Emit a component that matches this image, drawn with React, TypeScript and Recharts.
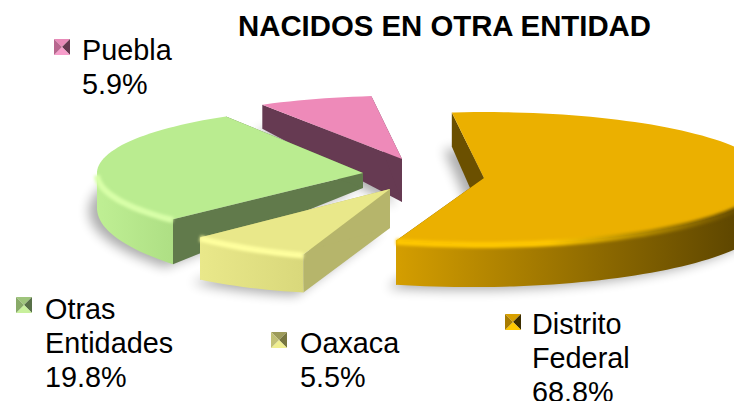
import { Pie, PieChart } from "recharts";

const WIDTH = 734;
const HEIGHT = 401;

const labels = ["Puebla", "Otras Entidades", "Oaxaca", "Distrito Federal"];
const values = [5.9, 19.8, 5.5, 68.8];
const legendLines = [["Puebla"], ["Otras", "Entidades"], ["Oaxaca"], ["Distrito", "Federal"]];

const data = labels.map((name, i) => ({ name, value: values[i] }));

// the slide's 3D view stretches some slices, so true angles get remapped
const TRUE_KNOTS = [96.5, 117.74, 189.02, 208.82, 456.5];
const VIEW_KNOTS = [96.5, 121, 224.4, 251, 456.5];

const warp = (a: number) => {
  for (let i = 0; i < TRUE_KNOTS.length - 1; i++) {
    if (a <= TRUE_KNOTS[i + 1] + 0.001) {
      const u = (a - TRUE_KNOTS[i]) / (TRUE_KNOTS[i + 1] - TRUE_KNOTS[i]);
      return VIEW_KNOTS[i] + u * (VIEW_KNOTS[i + 1] - VIEW_KNOTS[i]);
    }
  }
  return a;
};

const TILT = 0.248;

interface SliceLook {
  dx: number;
  dy: number;
  rScale: number;
  ryScale: number;
  nudge: number;
  depth: [number, number, number]; // apex, first rim corner, last rim corner
  top: string;
  side: string;
  rim: [string, string];
  lip: [string, string];
}

const LOOK: Record<string, SliceLook> = {
  Puebla: {
    dx: 2, dy: -11, rScale: 1.02, ryScale: 0.96, nudge: 0, depth: [43, 24, 24],
    top: "#ee8ab9", side: "#663a52", rim: ["#ee8ab9", "#ee8ab9"], lip: ["#ee8ab9", "#ee8ab9"],
  },
  "Otras Entidades": {
    dx: -37, dy: 3, rScale: 1, ryScale: 1, nudge: 0, depth: [15, 22, 45],
    top: "#baec90", side: "#617a4b", rim: ["#bfef94", "#aedf84"], lip: ["#d8ffa8", "#d8ffa8"],
  },
  Oaxaca: {
    dx: -10, dy: 19, rScale: 1, ryScale: 1.05, nudge: 0, depth: [39, 42, 38],
    top: "#e9e88a", side: "#b6b56b", rim: ["#e9e88a", "#d9d87b"], lip: ["#ffff9e", "#ffff9e"],
  },
  "Distrito Federal": {
    dx: 84, dy: 8, rScale: 1.07, ryScale: 1, nudge: 1, depth: [42, 44, 34],
    top: "#ebb000", side: "#6b5000", rim: ["#d49e00", "#5f4700"], lip: ["#ffc800", "#6b5000"],
  },
};

const sliceGeometry = (props: any) => {
  const look = LOOK[props.name ?? props.payload?.name];
  const ax = props.cx + look.dx;
  const ay = props.cy + look.dy;
  const rx = props.outerRadius * look.rScale;
  const ry = props.outerRadius * TILT * look.ryScale;
  const from = warp(props.startAngle) + look.nudge;
  const to = warp(props.endAngle);
  const at = (deg: number) => ({
    x: ax + rx * Math.cos((deg * Math.PI) / 180),
    y: ay - ry * Math.sin((deg * Math.PI) / 180),
  });
  const rimDepth = (deg: number) =>
    look.depth[1] + ((deg - from) / (to - from)) * (look.depth[2] - look.depth[1]);
  const arc: { x: number; y: number; deg: number }[] = [];
  for (let d = from; d < to; d += 2) arc.push({ ...at(d), deg: d });
  arc.push({ ...at(to), deg: to });
  return { look, ax, ay, at, arc, rimDepth, from, to };
};

const toPath = (pts: { x: number; y: number }[], close = true) =>
  pts.map((p, i) => `${i ? "L" : "M"}${p.x.toFixed(1)} ${p.y.toFixed(1)}`).join(" ") + (close ? " Z" : "");

function ShadowShape(props: any) {
  const { ax, ay, arc, look, rimDepth } = sliceGeometry(props);
  const pts = [{ x: ax - 8, y: ay + look.depth[0] + 3 }, ...arc.map((p) => ({ x: p.x - 8, y: p.y + rimDepth(p.deg) + 3 }))];
  return (
    <g>
      <defs>
        <filter id={`soft-${props.index}`} x="-20%" y="-20%" width="140%" height="140%">
          <feGaussianBlur stdDeviation="6" />
        </filter>
      </defs>
      <path d={toPath(pts)} fill="#000" opacity={0.32} filter={`url(#soft-${props.index})`} />
    </g>
  );
}

function SliceShape(props: any) {
  const { look, ax, ay, arc, rimDepth } = sliceGeometry(props);
  const first = arc[0];
  const last = arc[arc.length - 1];
  const wallA = [
    { x: ax, y: ay },
    first,
    { x: first.x, y: first.y + look.depth[1] },
    { x: ax, y: ay + look.depth[0] },
  ];
  const wallB = [
    { x: ax, y: ay },
    last,
    { x: last.x, y: last.y + look.depth[2] },
    { x: ax, y: ay + look.depth[0] },
  ];
  const front = arc.filter((p) => Math.sin((p.deg * Math.PI) / 180) <= 0);
  const hasFront = front.length > 1;
  const xs = front.map((p) => p.x);
  const minX = hasFront ? Math.min(...xs) : 0;
  const maxX = hasFront ? Math.min(Math.max(...xs), WIDTH) : 1;
  const wall = hasFront
    ? [...front, ...[...front].reverse().map((p) => ({ x: p.x, y: p.y + rimDepth(p.deg) }))]
    : [];
  const id = `s${props.index}`;
  return (
    <g>
      <defs>
        <linearGradient id={`${id}-rim`} gradientUnits="userSpaceOnUse" x1={minX} x2={maxX} y1={0} y2={0}>
          <stop offset="0" stopColor={look.rim[0]} />
          <stop offset="1" stopColor={look.rim[1]} />
        </linearGradient>
        <linearGradient id={`${id}-lip`} gradientUnits="userSpaceOnUse" x1={minX} x2={maxX} y1={0} y2={0}>
          <stop offset="0" stopColor={look.lip[0]} />
          <stop offset="0.45" stopColor={look.lip[0]} />
          <stop offset="1" stopColor={look.lip[1]} />
        </linearGradient>
        <filter id={`${id}-blur`} x="-10%" y="-40%" width="120%" height="180%">
          <feGaussianBlur stdDeviation="1.4" />
        </filter>
      </defs>
      <path d={toPath(wallB)} fill={look.side} />
      <path d={toPath(wallA)} fill={look.side} />
      {hasFront && <path d={toPath(wall)} fill={`url(#${id}-rim)`} />}
      <path d={toPath([{ x: ax, y: ay }, ...arc])} fill={look.top} />
      {hasFront && (
        <path
          d={toPath(front.map((p) => ({ x: p.x, y: p.y + 1 })), false)}
          fill="none"
          stroke={`url(#${id}-lip)`}
          strokeWidth={6}
          filter={`url(#${id}-blur)`}
        />
      )}
    </g>
  );
}

function LegendKey({ x, y, tones }: { x: number; y: number; tones: string[] }) {
  const s = 16;
  const m = s / 2;
  return (
    <svg width={s} height={s} style={{ position: "absolute", left: x, top: y }}>
      <polygon points={`0,0 ${s},0 ${m},${m}`} fill={tones[0]} />
      <polygon points={`${s},0 ${s},${s} ${m},${m}`} fill={tones[1]} />
      <polygon points={`0,${s} ${s},${s} ${m},${m}`} fill={tones[2]} />
      <polygon points={`0,0 0,${s} ${m},${m}`} fill={tones[3]} />
    </svg>
  );
}

const LEGEND_SPOTS = [
  { key: [54, 39], text: [82, 33], tones: ["#e88ab8", "#64384f", "#f79ecb", "#b8678f"] },
  { key: [16, 297], text: [45, 292], tones: ["#9ec47c", "#587048", "#c8f09c", "#88aa68"] },
  { key: [271, 332], text: [300, 326], tones: ["#9d9b5a", "#77763f", "#f0ef90", "#c2c176"] },
  { key: [505, 314], text: [532, 307], tones: ["#d8a000", "#3c2d00", "#ffc800", "#a87c00"] },
];

export default function App() {
  return (
    <div
      style={{
        position: "absolute",
        left: 0,
        top: 0,
        width: WIDTH,
        height: HEIGHT,
        overflow: "hidden",
        background: "#fff",
        fontFamily: "'Liberation Sans', Arial, sans-serif",
      }}
    >
      <PieChart width={WIDTH} height={HEIGHT} margin={{ top: 0, right: 0, bottom: 0, left: 0 }}>
        <Pie
          data={data}
          dataKey="value"
          nameKey="name"
          cx={400}
          cy={170}
          outerRadius={266}
          startAngle={96.5}
          endAngle={456.5}
          stroke="none"
          isAnimationActive={false}
          shape={ShadowShape}
        />
        <Pie
          data={data}
          dataKey="value"
          nameKey="name"
          cx={400}
          cy={170}
          outerRadius={266}
          startAngle={96.5}
          endAngle={456.5}
          stroke="none"
          isAnimationActive={false}
          shape={SliceShape}
        />
      </PieChart>
      <div
        style={{
          position: "absolute",
          left: 238,
          top: 9,
          fontSize: 29.35,
          fontWeight: 700,
          lineHeight: "34px",
          whiteSpace: "nowrap",
          color: "#000",
        }}
      >
        NACIDOS EN OTRA ENTIDAD
      </div>
      {labels.map((name, i) => (
        <div key={name}>
          <LegendKey x={LEGEND_SPOTS[i].key[0]} y={LEGEND_SPOTS[i].key[1]} tones={LEGEND_SPOTS[i].tones} />
          <div
            style={{
              position: "absolute",
              left: LEGEND_SPOTS[i].text[0],
              top: LEGEND_SPOTS[i].text[1],
              fontSize: 28.8,
              lineHeight: "34px",
              color: "#000",
              whiteSpace: "nowrap",
            }}
          >
            {legendLines[i].map((line) => (
              <div key={line}>{line}</div>
            ))}
            <div>{values[i].toFixed(1)}%</div>
          </div>
        </div>
      ))}
    </div>
  );
}
